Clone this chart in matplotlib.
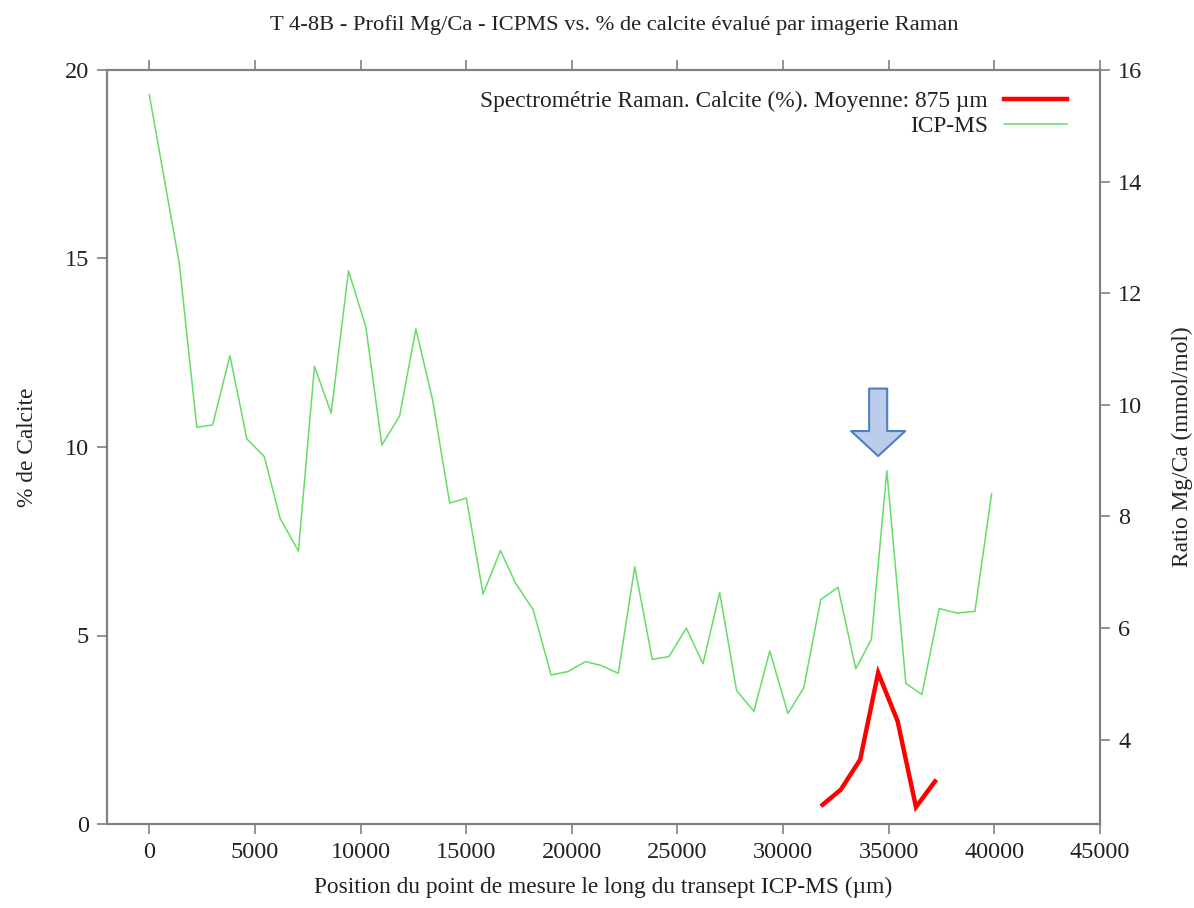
import numpy as np
import matplotlib
matplotlib.use("Agg")
import matplotlib.pyplot as plt

# ICP-MS Mg/Ca profile (right axis)
icp_pos = [0, 1420, 2250, 3000, 3820, 4620, 5450, 6190, 7060, 7820,
           8610, 9430, 10250, 11010, 11850, 12620, 13410, 14220, 15010, 15800,
           16620, 17330, 18170, 19020, 19810, 20650, 21390, 22200, 22980, 23810,
           24600, 25420, 26210, 27000, 27800, 28620, 29370, 30230, 30980, 31780,
           32600, 33440, 34180, 34910, 35810, 36570, 37390, 38230, 39080, 39870]
icp_mgca = [15.56, 12.54, 9.60, 9.64, 10.88, 9.39, 9.07, 7.97, 7.38, 10.69,
            9.85, 12.40, 11.40, 9.28, 9.80, 11.36, 10.09, 8.24, 8.33, 6.61,
            7.39, 6.81, 6.33, 5.16, 5.22, 5.40, 5.33, 5.19, 7.10, 5.44,
            5.49, 6.00, 5.36, 6.64, 4.88, 4.51, 5.59, 4.47, 4.93, 6.51,
            6.73, 5.27, 5.80, 8.82, 5.01, 4.81, 6.35, 6.27, 6.30, 8.41]

# Raman calcite percentage (left axis)
raman_pos = [31870, 32730, 33650, 34500, 35420, 36290, 37190]
raman_calcite = [0.51, 0.91, 1.71, 4.01, 2.73, 0.45, 1.13]

serif = "Liberation Serif"
txt = "#222222"
frame = "#808080"

fig = plt.figure(figsize=(11.94, 9.08), dpi=100)
ax = fig.add_axes([107 / 1194, 1 - 824 / 908, (1100 - 107) / 1194, (824 - 70) / 908])
ax2 = ax.twinx()

ax.plot(raman_pos, raman_calcite, color="#ff0000", lw=3.2, solid_joinstyle="miter",
        label="Spectrométrie Raman. Calcite (%). Moyenne: 875 µm", zorder=3)
l2, = ax2.plot(icp_pos, icp_mgca, color="#66dd66", lw=1.1, label="ICP-MS")

ax.set_xlim(-2000, 45000)
ax.set_ylim(0, 20)
ax2.set_ylim(2.49, 16)
ax.set_xticks(np.arange(0, 45001, 5000))
ax.set_yticks(np.arange(0, 21, 5))
ax2.set_yticks(np.arange(4, 17, 2))

for a in (ax, ax2):
    for s in a.spines.values():
        s.set_color(frame)
        s.set_linewidth(1.5)
    a.tick_params(direction="out", length=7, width=1.2, color=frame,
                  labelsize=17.5, labelcolor=txt, pad=6)
    for lab in a.get_xticklabels() + a.get_yticklabels():
        lab.set_fontfamily(serif)
ax.tick_params(axis="x", top=True)
ax2.tick_params(axis="x", top=True)

ax.set_title("T 4-8B - Profil Mg/Ca - ICPMS vs. % de calcite évalué par imagerie Raman",
             fontfamily=serif, fontsize=16.2, color=txt, pad=29, x=0.511)
ax.set_xlabel("Position du point de mesure le long du transept ICP-MS (µm)",
              fontfamily=serif, fontsize=16.8, color=txt, labelpad=10)
ax.set_ylabel("% de Calcite", fontfamily=serif, fontsize=16.8, color=txt)
ax.yaxis.set_label_coords(-0.069, 0.5)
ax2.set_ylabel("Ratio Mg/Ca (mmol/mol)", fontfamily=serif, fontsize=16.8, color=txt)
ax2.yaxis.set_label_coords(1.072, 0.5)

h1, lab1 = ax.get_legend_handles_labels()
leg = ax2.legend(h1 + [l2], lab1 + ["ICP-MS"], loc="upper right", frameon=False,
                 markerfirst=False, prop={"family": serif, "size": 16.8},
                 handlelength=2.7, handletextpad=0.7, labelspacing=0.15,
                 borderaxespad=0.5, bbox_to_anchor=(0.988, 1.0))
for t in leg.get_texts():
    t.set_color(txt)

# blue block arrow pointing to the Mg/Ca peak
ax.annotate("", xy=(34500, 9.76), xytext=(34500, 11.55),
            arrowprops=dict(arrowstyle="simple,head_length=1.8,head_width=3.9,tail_width=1.3",
                            mutation_scale=10, fc="#bccdeb", ec="#4f7fc0", lw=1.5,
                            shrinkA=0, shrinkB=0),
            zorder=4)

fig.savefig("out.png", dpi=100)
